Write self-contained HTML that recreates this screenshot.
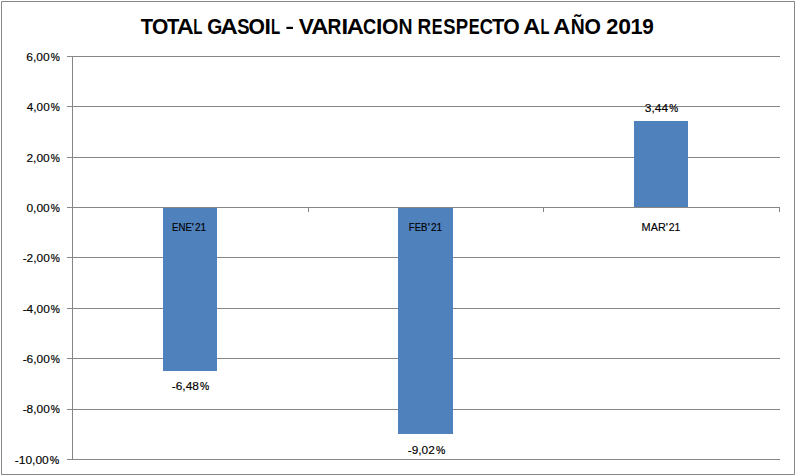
<!DOCTYPE html>
<html><head><meta charset="utf-8"><title>chart</title>
<style>
html,body{margin:0;padding:0;background:#fff;}
body{width:796px;height:476px;overflow:hidden;position:relative;font-family:"Liberation Sans",sans-serif;}
.l{position:absolute;background:#868686;}
.b{position:absolute;background:#4f81bd;}
svg{position:absolute;left:0;top:0;}
text.s{stroke:#000;stroke-width:0.15px;}
text.p{stroke-width:0.22px;}
text{font-family:"Liberation Sans",sans-serif;fill:#000;white-space:pre;}
</style></head><body>
<div style="position:absolute;left:1px;top:1px;width:792px;height:472px;border:1px solid #868686;"></div>
<div style="position:absolute;left:1px;top:1px;width:1px;height:1px;background:#a4a4a4;"></div>
<div style="position:absolute;left:794px;top:1px;width:1px;height:1px;background:#a4a4a4;"></div>
<div style="position:absolute;left:1px;top:474px;width:1px;height:1px;background:#a4a4a4;"></div>
<div style="position:absolute;left:794px;top:474px;width:1px;height:1px;background:#a4a4a4;"></div>
<div class="l" style="left:67px;top:56px;width:713px;height:1px;"></div>
<div class="l" style="left:67px;top:106px;width:713px;height:1px;"></div>
<div class="l" style="left:67px;top:157px;width:713px;height:1px;"></div>
<div class="l" style="left:67px;top:207px;width:713px;height:1px;"></div>
<div class="l" style="left:67px;top:257px;width:713px;height:1px;"></div>
<div class="l" style="left:67px;top:308px;width:713px;height:1px;"></div>
<div class="l" style="left:67px;top:358px;width:713px;height:1px;"></div>
<div class="l" style="left:67px;top:409px;width:713px;height:1px;"></div>
<div class="l" style="left:67px;top:459px;width:713px;height:1px;"></div>
<div class="b" style="left:163px;top:208px;width:54px;height:163px;"></div>
<div class="b" style="left:398px;top:208px;width:55px;height:226px;"></div>
<div class="b" style="left:634px;top:121px;width:54px;height:86px;"></div>
<div class="l" style="left:72px;top:56px;width:1px;height:404px;"></div>
<div class="l" style="left:72px;top:207px;width:708px;height:1px;"></div>
<div class="l" style="left:308px;top:207px;width:1px;height:5px;"></div>
<div class="l" style="left:543px;top:207px;width:1px;height:5px;"></div>
<div class="l" style="left:779px;top:207px;width:1px;height:5px;"></div>
<svg width="796" height="476" viewBox="0 0 796 476">
<text x="140.67" y="34.00" font-size="21.80" font-weight="bold" textLength="12.35" lengthAdjust="spacingAndGlyphs">T</text>
<text x="152.07" y="34.00" font-size="21.80" font-weight="bold" textLength="16.35" lengthAdjust="spacingAndGlyphs">O</text>
<text x="167.09" y="34.00" font-size="21.80" font-weight="bold" textLength="12.34" lengthAdjust="spacingAndGlyphs">T</text>
<text x="176.89" y="34.00" font-size="21.80" font-weight="bold" textLength="17.03" lengthAdjust="spacingAndGlyphs">A</text>
<text x="193.15" y="34.00" font-size="21.80" font-weight="bold" textLength="9.14" lengthAdjust="spacingAndGlyphs">L</text>
<text x="207.18" y="34.00" font-size="21.80" font-weight="bold" textLength="15.09" lengthAdjust="spacingAndGlyphs">G</text>
<text x="220.50" y="34.00" font-size="21.80" font-weight="bold" textLength="17.19" lengthAdjust="spacingAndGlyphs">A</text>
<text x="237.20" y="34.00" font-size="21.80" font-weight="bold" textLength="12.26" lengthAdjust="spacingAndGlyphs">S</text>
<text x="248.48" y="34.00" font-size="21.80" font-weight="bold" textLength="16.46" lengthAdjust="spacingAndGlyphs">O</text>
<text x="264.41" y="34.00" font-size="21.80" font-weight="bold" textLength="6.40" lengthAdjust="spacingAndGlyphs">I</text>
<text x="270.90" y="34.00" font-size="21.80" font-weight="bold" textLength="9.16" lengthAdjust="spacingAndGlyphs">L</text>
<text x="298.68" y="34.00" font-size="21.80" font-weight="bold" textLength="15.17" lengthAdjust="spacingAndGlyphs">V</text>
<text x="311.25" y="34.00" font-size="21.80" font-weight="bold" textLength="17.20" lengthAdjust="spacingAndGlyphs">A</text>
<text x="327.50" y="34.00" font-size="21.80" font-weight="bold" textLength="13.86" lengthAdjust="spacingAndGlyphs">R</text>
<text x="341.44" y="34.00" font-size="21.80" font-weight="bold" textLength="6.63" lengthAdjust="spacingAndGlyphs">I</text>
<text x="346.70" y="34.00" font-size="21.80" font-weight="bold" textLength="17.18" lengthAdjust="spacingAndGlyphs">A</text>
<text x="362.92" y="34.00" font-size="21.80" font-weight="bold" textLength="13.15" lengthAdjust="spacingAndGlyphs">C</text>
<text x="376.10" y="34.00" font-size="21.80" font-weight="bold" textLength="6.40" lengthAdjust="spacingAndGlyphs">I</text>
<text x="382.07" y="34.00" font-size="21.80" font-weight="bold" textLength="16.47" lengthAdjust="spacingAndGlyphs">O</text>
<text x="398.58" y="34.00" font-size="21.80" font-weight="bold" textLength="14.07" lengthAdjust="spacingAndGlyphs">N</text>
<text x="417.62" y="34.00" font-size="21.80" font-weight="bold" textLength="13.72" lengthAdjust="spacingAndGlyphs">R</text>
<text x="431.79" y="34.00" font-size="21.80" font-weight="bold" textLength="10.76" lengthAdjust="spacingAndGlyphs">E</text>
<text x="443.20" y="34.00" font-size="21.80" font-weight="bold" textLength="12.26" lengthAdjust="spacingAndGlyphs">S</text>
<text x="455.84" y="34.00" font-size="21.80" font-weight="bold" textLength="12.39" lengthAdjust="spacingAndGlyphs">P</text>
<text x="468.66" y="34.00" font-size="21.80" font-weight="bold" textLength="10.90" lengthAdjust="spacingAndGlyphs">E</text>
<text x="479.86" y="34.00" font-size="21.80" font-weight="bold" textLength="13.18" lengthAdjust="spacingAndGlyphs">C</text>
<text x="492.12" y="34.00" font-size="21.80" font-weight="bold" textLength="12.35" lengthAdjust="spacingAndGlyphs">T</text>
<text x="503.16" y="34.00" font-size="21.80" font-weight="bold" textLength="16.46" lengthAdjust="spacingAndGlyphs">O</text>
<text x="523.27" y="34.00" font-size="21.80" font-weight="bold" textLength="17.09" lengthAdjust="spacingAndGlyphs">A</text>
<text x="540.56" y="34.00" font-size="21.80" font-weight="bold" textLength="8.98" lengthAdjust="spacingAndGlyphs">L</text>
<text x="553.36" y="34.00" font-size="21.80" font-weight="bold" textLength="17.20" lengthAdjust="spacingAndGlyphs">A</text>
<text x="570.73" y="34.00" font-size="21.80" font-weight="bold" textLength="13.98" lengthAdjust="spacingAndGlyphs">Ñ</text>
<text x="584.48" y="34.00" font-size="21.80" font-weight="bold" textLength="16.46" lengthAdjust="spacingAndGlyphs">O</text>
<text x="606.19" y="34.00" font-size="21.80" font-weight="bold" textLength="12.07" lengthAdjust="spacingAndGlyphs">2</text>
<text x="618.31" y="34.00" font-size="21.80" font-weight="bold" textLength="12.77" lengthAdjust="spacingAndGlyphs">0</text>
<text x="630.48" y="34.00" font-size="21.80" font-weight="bold">1</text>
<text x="642.36" y="34.00" font-size="21.80" font-weight="bold" textLength="11.54" lengthAdjust="spacingAndGlyphs">9</text>
<text x="26.35" y="61.00" font-size="11.50" font-weight="normal" textLength="23.35" lengthAdjust="spacingAndGlyphs" class="s">6,00</text>
<text x="50.86" y="61.00" font-size="11.50" font-weight="normal" textLength="9.10" lengthAdjust="spacingAndGlyphs" class="s p">%</text>
<text x="26.86" y="111.00" font-size="11.50" font-weight="normal" textLength="22.79" lengthAdjust="spacingAndGlyphs" class="s">4,00</text>
<text x="50.86" y="111.00" font-size="11.50" font-weight="normal" textLength="9.10" lengthAdjust="spacingAndGlyphs" class="s p">%</text>
<text x="26.44" y="162.00" font-size="11.50" font-weight="normal" textLength="23.26" lengthAdjust="spacingAndGlyphs" class="s">2,00</text>
<text x="50.86" y="162.00" font-size="11.50" font-weight="normal" textLength="9.10" lengthAdjust="spacingAndGlyphs" class="s p">%</text>
<text x="26.46" y="212.00" font-size="11.50" font-weight="normal" textLength="23.28" lengthAdjust="spacingAndGlyphs" class="s">0,00</text>
<text x="50.86" y="212.00" font-size="11.50" font-weight="normal" textLength="9.10" lengthAdjust="spacingAndGlyphs" class="s p">%</text>
<text x="22.67" y="262.00" font-size="11.50" font-weight="normal" textLength="27.12" lengthAdjust="spacingAndGlyphs" class="s">-2,00</text>
<text x="50.86" y="262.00" font-size="11.50" font-weight="normal" textLength="9.10" lengthAdjust="spacingAndGlyphs" class="s p">%</text>
<text x="22.67" y="313.00" font-size="11.50" font-weight="normal" textLength="27.12" lengthAdjust="spacingAndGlyphs" class="s">-4,00</text>
<text x="50.86" y="313.00" font-size="11.50" font-weight="normal" textLength="9.10" lengthAdjust="spacingAndGlyphs" class="s p">%</text>
<text x="22.67" y="363.00" font-size="11.50" font-weight="normal" textLength="27.12" lengthAdjust="spacingAndGlyphs" class="s">-6,00</text>
<text x="50.86" y="363.00" font-size="11.50" font-weight="normal" textLength="9.10" lengthAdjust="spacingAndGlyphs" class="s p">%</text>
<text x="22.67" y="413.00" font-size="11.50" font-weight="normal" textLength="27.12" lengthAdjust="spacingAndGlyphs" class="s">-8,00</text>
<text x="50.86" y="413.00" font-size="11.50" font-weight="normal" textLength="9.10" lengthAdjust="spacingAndGlyphs" class="s p">%</text>
<text x="14.78" y="464.00" font-size="11.50" font-weight="normal" textLength="34.01" lengthAdjust="spacingAndGlyphs" class="s">-10,00</text>
<text x="49.86" y="464.00" font-size="11.50" font-weight="normal" textLength="9.46" lengthAdjust="spacingAndGlyphs" class="s p">%</text>
<text x="172.03" y="231.00" font-size="11.50" font-weight="normal" textLength="19.79" lengthAdjust="spacingAndGlyphs" class="s">ENE</text>
<text x="191.86" y="231.00" font-size="11.50" font-weight="normal" class="s">'</text>
<text x="194.89" y="231.00" font-size="11.50" font-weight="normal" textLength="11.31" lengthAdjust="spacingAndGlyphs" class="s">21</text>
<text x="408.81" y="231.00" font-size="11.50" font-weight="normal" textLength="18.57" lengthAdjust="spacingAndGlyphs" class="s">FEB</text>
<text x="427.86" y="231.00" font-size="11.50" font-weight="normal" class="s">'</text>
<text x="430.89" y="231.00" font-size="11.50" font-weight="normal" textLength="11.31" lengthAdjust="spacingAndGlyphs" class="s">21</text>
<text x="641.59" y="231.00" font-size="11.50" font-weight="normal" textLength="24.18" lengthAdjust="spacingAndGlyphs" class="s">MAR</text>
<text x="665.76" y="231.00" font-size="11.50" font-weight="normal" class="s">'</text>
<text x="668.80" y="231.00" font-size="11.50" font-weight="normal" textLength="11.65" lengthAdjust="spacingAndGlyphs" class="s">21</text>
<text x="171.75" y="390.20" font-size="11.50" font-weight="normal" textLength="27.22" lengthAdjust="spacingAndGlyphs" class="s">-6,48</text>
<text x="200.07" y="390.20" font-size="11.50" font-weight="normal" textLength="9.21" lengthAdjust="spacingAndGlyphs" class="s p">%</text>
<text x="407.79" y="454.10" font-size="11.50" font-weight="normal" textLength="26.98" lengthAdjust="spacingAndGlyphs" class="s">-9,02</text>
<text x="436.08" y="454.10" font-size="11.50" font-weight="normal" textLength="9.25" lengthAdjust="spacingAndGlyphs" class="s p">%</text>
<text x="644.88" y="112.10" font-size="11.50" font-weight="normal" textLength="23.16" lengthAdjust="spacingAndGlyphs" class="s">3,44</text>
<text x="669.36" y="112.10" font-size="11.50" font-weight="normal" textLength="8.87" lengthAdjust="spacingAndGlyphs" class="s p">%</text>
<rect x="286.4" y="26.8" width="6.6" height="2.2" fill="#000"/>
</svg>
</body></html>
